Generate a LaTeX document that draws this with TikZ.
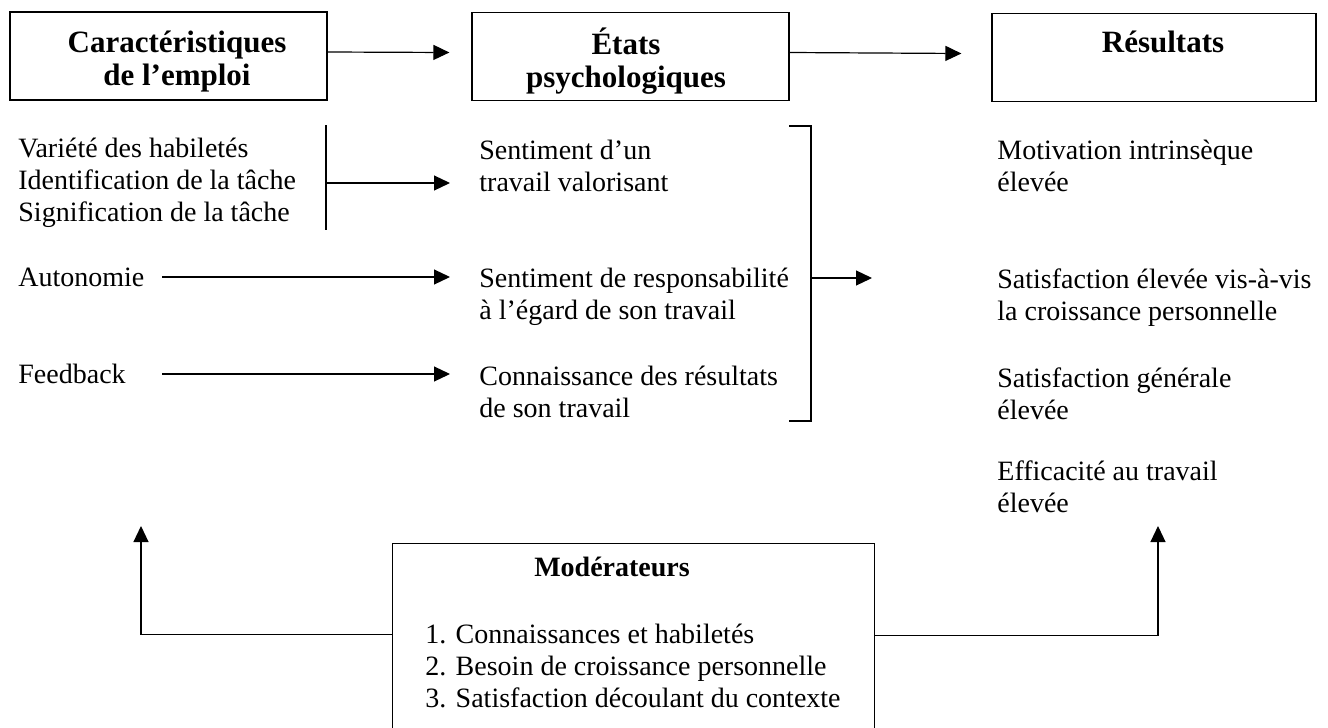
\documentclass[tikz,border=0pt]{standalone}
\usepackage{fontspec}
\setmainfont{Liberation Serif}
\usetikzlibrary{arrows.meta}

\tikzset{
	cadre/.style={draw, line width=0.6pt, minimum width=158.5pt, minimum height=44pt, inner sep=0pt},
	entete/.style={inner sep=0pt, align=center, font=\fontsize{15.5}{16.5}\selectfont\bfseries},
	texte/.style={anchor=west, align=left, inner sep=0pt, font=\fontsize{14}{16}\selectfont},
	fleche/.style={line width=0.6pt, -{Triangle[length=8pt,width=7.5pt]}},
	trait/.style={line width=0.6pt}
}

\begin{document}
\begin{tikzpicture}[x=0.5pt,y=-0.5pt]
	\useasboundingbox (0,0) rectangle (1328,728);
	\clip (0,0) rectangle (1328,728);
	
	%titles
	\node[cadre] (emploi) at (168.5,56) {};
	\node[cadre] (etats) at (630.5,56.5) {};
	\node[cadre, minimum width=162pt] (resultats) at (1154,57.5) {};
	\node[entete] (emploi titre) at (177,62) {Caractéristiques\\de l’emploi};
	\node[entete] (etats titre) at (626,61) {États\\psychologiques};
	\node[entete] (resultats titre) at (1163,63) {Résultats\\\strut};
	\draw[fleche] ([yshift=2pt]emploi.east) -- ([xshift=-11pt,yshift=2pt]etats.west);
	\draw[fleche] ([yshift=2pt]etats.east) -- ([xshift=-15pt,yshift=2pt]resultats.west);
	
	%job characteristics
	\node[texte] (varietes) at (18,183) {Variété des habiletés\\Identification de la tâche\\Signification de la tâche};
	\node[texte] (autonomie) at (18,277) {Autonomie};
	\node[texte] (feedback) at (18,374) {Feedback};
	\draw[trait] (326,125) coordinate (barre) -- (326,230);
	\coordinate (depart) at (162,0);
	
	%psychological states
	\node[texte] (valorisant) at (479,166) {Sentiment d’un\\travail valorisant};
	\node[texte] (responsabilite) at (479,297) {Sentiment de responsabilité\\à l’égard de son travail};
	\node[texte] (connaissance) at (479,392) {Connaissance des résultats\\de son travail};
	\draw[fleche] (barre |- varietes) -- ([xshift=-14.5pt]varietes -| valorisant.west);
	\draw[fleche] (depart |- autonomie) -- ([xshift=-14.5pt]autonomie -| responsabilite.west);
	\draw[fleche] (depart |- feedback) -- ([xshift=-14.5pt]feedback -| connaissance.west);
	
	%bracket
	\draw[trait] (789,126) -- (811,126) -- (811,421) -- (789,421);
	\coordinate (accolade) at (811,278);
	\draw[fleche] (accolade) -- ++(61,0);
	
	%outcomes
	\node[texte] (motivation) at (997,166) {Motivation intrinsèque\\élevée};
	\node[texte] (croissance) at (997,298) {Satisfaction élevée vis-à-vis\\la croissance personnelle};
	\node[texte] (generale) at (997,394) {Satisfaction générale\\élevée};
	\node[texte] (efficacite) at (997,487) {Efficacité au travail\\élevée};
	
	%moderators
	\node[draw, trait, anchor=north west, minimum width=241pt, minimum height=98.5pt, inner sep=0pt] (cadre) at (392,543) {};
	\node[inner sep=0pt, font=\fontsize{14}{16}\selectfont\bfseries] (moderateurs) at (612,567) {Modérateurs};
	\node[texte] (liste) at (425,666) {1. Connaissances et habiletés\\2. Besoin de croissance personnelle\\3. Satisfaction découlant du contexte};
	\coordinate (vers emploi) at (141,526);
	\coordinate (vers resultats) at (1158,526);
	\draw[fleche] ([yshift=4pt]cadre.west) -| (vers emploi);
	\draw[fleche] ([yshift=3.5pt]cadre.east) -| (vers resultats);
\end{tikzpicture}
\end{document}
